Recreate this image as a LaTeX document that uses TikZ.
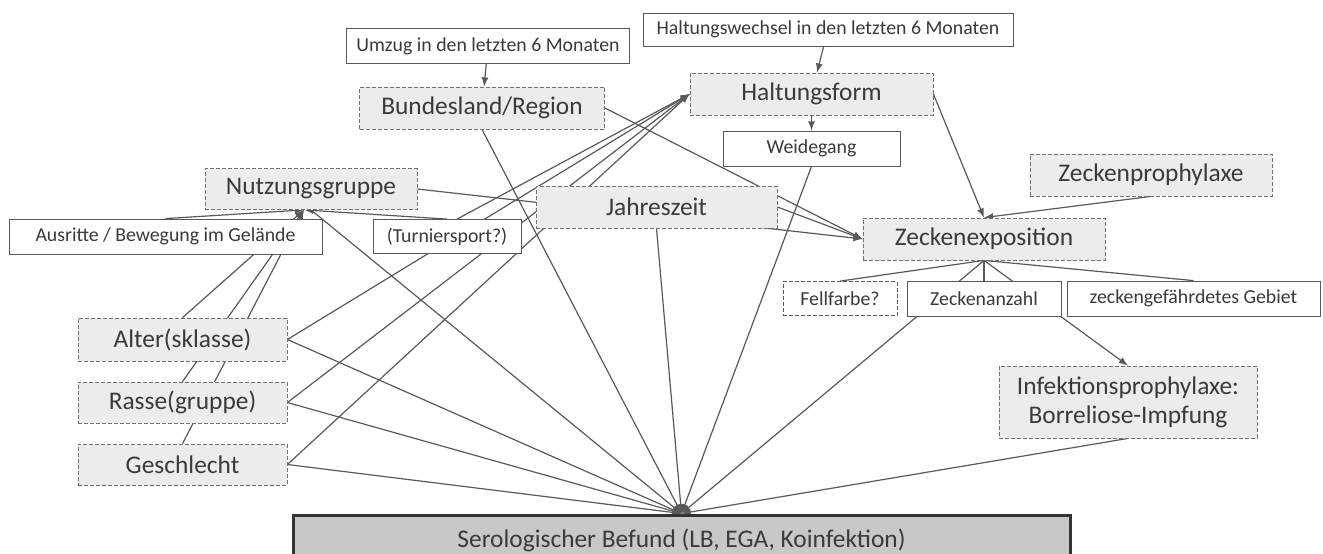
\documentclass[tikz,border=0pt]{standalone}
\usepackage{fontspec}
\setmainfont{Carlito}
\usepackage{xcolor}
\usepackage{tikz}
\usetikzlibrary{arrows,backgrounds}

\definecolor{boxgray}{HTML}{ECECEC}
\definecolor{befgray}{HTML}{C8C8C8}
\definecolor{linegray}{HTML}{595959}
\definecolor{textgray}{HTML}{3A3A3A}

\begin{document}
\begin{tikzpicture}[x=0.5pt,y=-0.5pt,
    factor/.style={draw=linegray!85,dash pattern=on 2pt off 1pt,fill=boxgray,text=textgray,
        font=\fontsize{12.7}{14.5}\selectfont,inner sep=0pt,align=center},
    detail/.style={draw=linegray,fill=white,text=textgray,
        font=\fontsize{9.9}{12}\selectfont,inner sep=0pt},
    befund/.style={draw=black!80,line width=1.5pt,fill=befgray,text=textgray,
        font=\fontsize{12.7}{14.5}\selectfont,inner sep=0pt}]
\useasboundingbox (0,0) rectangle (1323,553);
\clip (0,0) rectangle (1323,553);

    \node[detail,minimum width=141.5pt,minimum height=17.5pt] (umzug) at (488,46) {Umzug in den letzten 6 Monaten};
    \node[factor,minimum width=122.5pt,minimum height=21pt] (bund) at (482,108) {Bundesland/Region};
    \node[detail,minimum width=185pt,minimum height=16.5pt] (hwech) at (828,29.5) {Haltungswechsel in den letzten 6 Monaten};
    \node[factor,minimum width=121.5pt,minimum height=21pt] (halt) at (811.5,94) {Haltungsform};
    \node[detail,minimum width=88.5pt,minimum height=17.5pt] (weide) at (811.5,148.5) {Weidegang};

    \node[factor,minimum width=106pt,minimum height=20.5pt] (nutz) at (311,189) {Nutzungsgruppe};
    \node[factor,minimum width=120.5pt,minimum height=21pt] (jahr) at (656.5,207) {Jahreszeit};
    \node[detail,minimum width=156.5pt,minimum height=17.5pt] (ausr) at (165.5,236.5) {Ausritte / Bewegung im Gelände};
    \node[detail,minimum width=74pt,minimum height=17pt] (turn) at (447,236.5) {(Turniersport?)};

    \node[factor,minimum width=121pt,minimum height=21pt] (zprop) at (1151,175) {Zeckenprophylaxe};
    \node[factor,minimum width=121pt,minimum height=21pt] (zexp) at (984,239) {Zeckenexposition};
    \node[detail,dash pattern=on 2pt off 1pt,minimum width=57pt,minimum height=17pt] (fell) at (840,298.5) {Fellfarbe?};
    \node[detail,minimum width=77pt,minimum height=17.5pt] (zanz) at (984,298.5) {Zeckenanzahl};
    \node[detail,minimum width=126.5pt,minimum height=17.5pt] (zgeb) at (1193.5,298.5) {zeckengefährdetes Gebiet};
    \node[factor,minimum width=129pt,minimum height=36pt] (infekt) at (1128,402) {Infektionsprophylaxe:\\Borreliose-Impfung};

    \node[factor,minimum width=104.5pt,minimum height=21.5pt] (alter) at (182.5,339.5) {Alter(sklasse)};
    \node[factor,minimum width=104.5pt,minimum height=20.5pt] (rasse) at (182.5,402.5) {Rasse(gruppe)};
    \node[factor,minimum width=104.5pt,minimum height=20.5pt] (geschl) at (182.5,464.5) {Geschlecht};

    \node[befund,minimum width=388.5pt,minimum height=25pt] (befund) at (681.5,540) {Serologischer Befund (LB, EGA, Koinfektion)};

\begin{pgfonlayer}{background}
\begin{scope}[draw=linegray,line width=0.6pt,>=latex]
    \draw[->] (umzug) -- (bund);
    \draw[->] (hwech) -- (halt);
    \draw[->] (halt) -- (weide);

    \foreach \src in {ausr.north,turn.north,alter.north,rasse.north,geschl.north}
        \draw[->] (\src) -- ([xshift=-3.5pt]nutz.south);

    \foreach \src in {alter.east,rasse.east,geschl.east}
        \draw[->] (\src) -- (halt.west);
    \draw[->] ([xshift=5pt]turn.north) -- (halt.west);

    \foreach \src in {bund.east,nutz.east,jahr.east}
        \draw[->] (\src) -- (zexp.west);
    \draw[->] (halt.east) -- (zexp.north);
    \draw[->] (zprop.south) -- (zexp.north);

    \foreach \dst in {fell,zanz,zgeb}
        \draw (zexp.south) -- (\dst.north);
    \draw[->] (zexp.south) -- (infekt.north);

    \foreach \src in {nutz.south,bund.south,jahr.south,weide.south,zexp.south,infekt.south,alter.east,rasse.east,geschl.east}
        \draw[->] (\src) -- (befund.north);
\end{scope}
\end{pgfonlayer}
\end{tikzpicture}
\end{document}
